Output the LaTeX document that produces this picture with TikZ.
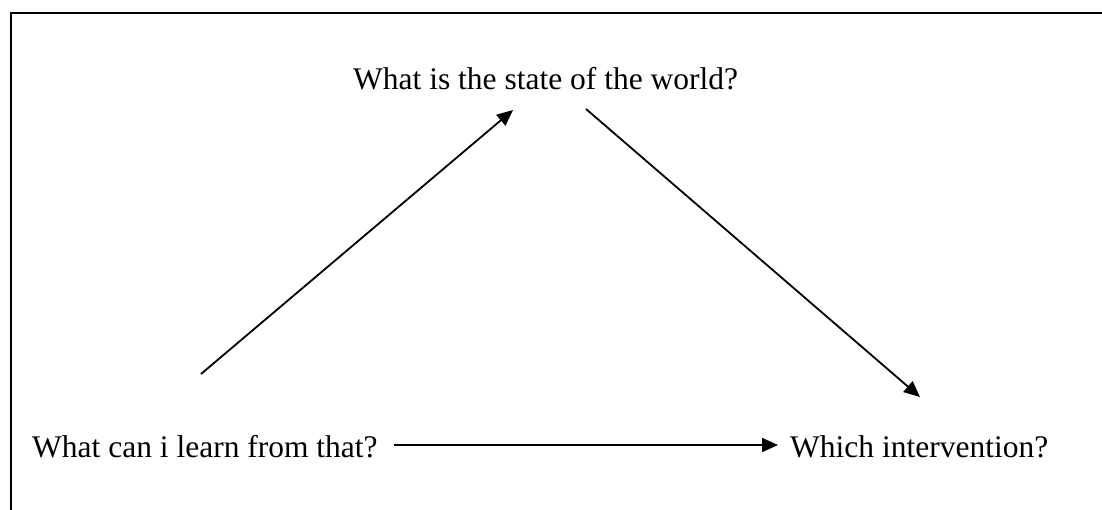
\documentclass[tikz,border=0pt]{standalone}
\usepackage{fontspec}
\setmainfont{Liberation Serif}
\usetikzlibrary{arrows.meta}
\begin{document}
\begin{tikzpicture}[x=1pt,y=-1pt,
  lbl/.style={inner sep=0pt,font=\fontsize{31.5}{36}\selectfont},
  conn/.style={line width=1.8pt,-{Triangle[length=16pt,width=14pt]}},
  frame/.style={line width=2pt}]
\useasboundingbox (0,0) rectangle (1102,510);
\draw[frame] (10.5,510) -- (10.5,12.7) -- (1102,12.7);
\node[lbl,anchor=base west] (state) at (353,90) {What is the state of the world?};
\node[lbl,anchor=base west] (learn) at (32,457) {What can i learn from that?};
\node[lbl,anchor=base west] (which) at (790,457) {Which intervention?};
\coordinate (s1) at (201,374);
\coordinate (s2) at (513,110);
\coordinate (w1) at (586,109);
\coordinate (w2) at (920,397);
\draw[conn] (s1) -- (s2);
\draw[conn] (w1) -- (w2);
\draw[conn] ([xshift=16pt,yshift=12pt]learn.base east) -- ([xshift=-12pt,yshift=12pt]which.base west);
\end{tikzpicture}
\end{document}
